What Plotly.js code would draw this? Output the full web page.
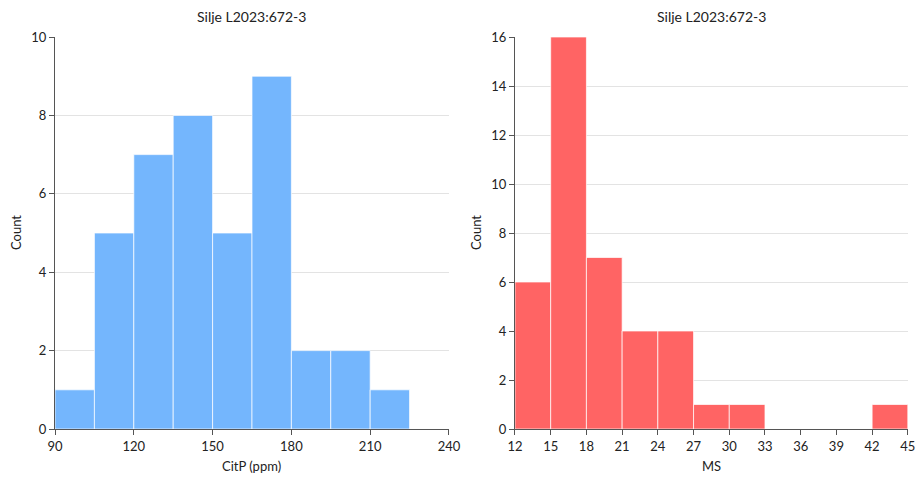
<!DOCTYPE html>
<html>
<head>
<meta charset="utf-8">
<script src="https://cdn.plot.ly/plotly-3.0.1.min.js"></script>
<style>html,body{margin:0;padding:0;background:#fff;}#chart{width:917px;height:477px;}</style>
</head>
<body>
<div id="chart"></div>
<script>
// Left histogram: CitP (ppm)
const citpBinStarts = [90, 105, 120, 135, 150, 165, 180, 195, 210];
const citpBinWidth = 15;
const citpCounts = [1, 5, 7, 8, 5, 9, 2, 2, 1];
const citpTicks = [90, 120, 150, 180, 210, 240];

// Right histogram: MS
const msBinStarts = [12, 15, 18, 21, 24, 27, 30, 33, 36, 39, 42];
const msBinWidth = 3;
const msCounts = [6, 16, 7, 4, 4, 1, 1, 0, 0, 0, 1];
const msTicks = [12, 15, 18, 21, 24, 27, 30, 33, 36, 39, 42, 45];

const titleText = "Silje L2023:672-3";
const font = "Lato, 'Open Sans', sans-serif";

const traces = [
  {
    type: "bar",
    x: citpBinStarts.map(s => s + citpBinWidth / 2),
    y: citpCounts,
    width: citpBinWidth,
    marker: {color: "#74b6fd", line: {color: "rgba(255,255,255,0.7)", width: 1}},
    xaxis: "x", yaxis: "y", hoverinfo: "none"
  },
  {
    type: "bar",
    x: msBinStarts.map(s => s + msBinWidth / 2),
    y: msCounts,
    width: msBinWidth,
    marker: {color: "#ff6464", line: {color: "rgba(255,255,255,0.7)", width: 1}},
    xaxis: "x2", yaxis: "y2", hoverinfo: "none"
  }
];

const axisCommon = {
  showline: true, linecolor: "#555", linewidth: 1,
  ticks: "outside", ticklen: 5, tickcolor: "#555",
  tickfont: {family: font, size: 13, color: "#222"},
  zeroline: false
};

const layout = {
  width: 917, height: 477,
  margin: {l: 0, r: 0, t: 0, b: 0},
  paper_bgcolor: "#fff", plot_bgcolor: "#fff",
  showlegend: false, bargap: 0,
  font: {family: font, color: "#222"},
  xaxis: Object.assign({}, axisCommon, {
    domain: [0.060, 0.4896], range: [90, 240], tickvals: citpTicks, showgrid: false, anchor: "y"
  }),
  yaxis: Object.assign({}, axisCommon, {
    domain: [0.1006, 0.9224], range: [0, 10], dtick: 2, showgrid: true, gridcolor: "#e3e3e3", anchor: "x"
  }),
  xaxis2: Object.assign({}, axisCommon, {
    domain: [0.5616, 0.990], range: [12, 45], tickvals: msTicks, showgrid: false, anchor: "y2"
  }),
  yaxis2: Object.assign({}, axisCommon, {
    domain: [0.1006, 0.9224], range: [0, 16], dtick: 2, showgrid: true, gridcolor: "#e3e3e3", anchor: "x2"
  }),
  annotations: [
    {text: titleText, xref: "paper", yref: "paper", x: 0.2748, y: 1 - 17/477, showarrow: false, font: {family: font, size: 14, color: "#222"}, xanchor: "center", yanchor: "middle"},
    {text: titleText, xref: "paper", yref: "paper", x: 0.7758, y: 1 - 17/477, showarrow: false, font: {family: font, size: 14, color: "#222"}, xanchor: "center", yanchor: "middle"},
    {text: "CitP (ppm)", xref: "paper", yref: "paper", x: 0.2748, y: 1 - 466/477, showarrow: false, font: {family: font, size: 13, color: "#222"}, xanchor: "center", yanchor: "middle"},
    {text: "MS", xref: "paper", yref: "paper", x: 0.7758, y: 1 - 466/477, showarrow: false, font: {family: font, size: 13, color: "#222"}, xanchor: "center", yanchor: "middle"},
    {text: "Count", xref: "paper", yref: "paper", x: 16/917, y: 1 - 233/477, showarrow: false, textangle: -90, font: {family: font, size: 13, color: "#222"}, xanchor: "center", yanchor: "middle"},
    {text: "Count", xref: "paper", yref: "paper", x: 476/917, y: 1 - 233/477, showarrow: false, textangle: -90, font: {family: font, size: 13, color: "#222"}, xanchor: "center", yanchor: "middle"}
  ]
};

Plotly.newPlot("chart", traces, layout, {staticPlot: true, displayModeBar: false});
</script>
</body>
</html>
